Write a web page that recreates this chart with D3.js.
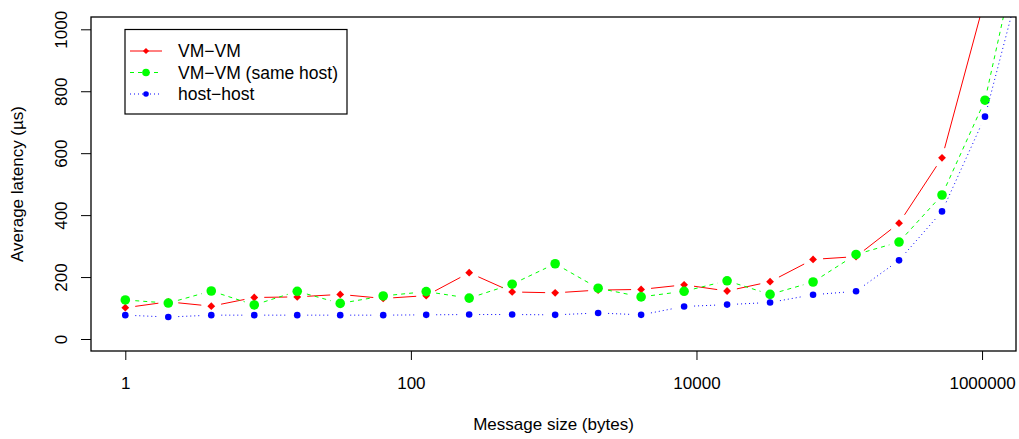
<!DOCTYPE html>
<html>
<head>
<meta charset="utf-8">
<script src="https://cdn.jsdelivr.net/npm/d3@7"></script>
<style>
  body { margin: 0; background: #fff; }
  svg { display: block; font-family: "Liberation Sans", Arial, sans-serif; }
</style>
</head>
<body>
<div id="chart"></div>
<script>
// message sizes (bytes), powers of two
const sizes = [1, 2, 4, 8, 16, 32, 64, 128, 256, 512, 1024, 2048, 4096, 8192,
    16384, 32768, 65536, 131072, 262144, 524288, 1048576, 2097152];
// average latency (us)
const vmVm = [101, 120, 106, 134, 136, 144, 131, 140, 214, 152, 149, 158, 160,
    175, 155, 185, 257, 266, 374, 585, 1100, 2200];
const vmVmSame = [126, 116, 155, 110, 154, 115, 139, 153, 132, 177, 243, 164, 136,
    154, 188, 144, 184, 273, 313, 465, 771, 1400];
const hostHost = [77, 71, 77, 77, 77, 77, 77, 78, 79, 79, 78, 84, 78,
    105, 111, 118, 143, 154, 254, 412, 718, 1250];
const seriesNames = ['VM\u2212VM', 'VM\u2212VM (same host)', 'host\u2212host'];
const xTicks = [1, 100, 10000, 1000000];
const yTicks = [0, 200, 400, 600, 800, 1000];

const width = 1019;
const height = 439;
const box = {left: 91, right: 1016, top: 17, bottom: 351};

const series = [
    {name: seriesNames[0], values: vmVm, color: '#ff0000', dash: null, mark: 'diamond', r: 3.9, lr: 3.1},
    {name: seriesNames[1], values: vmVmSame, color: '#00ff00', dash: '4,4', mark: 'circle', r: 4.8, lr: 3.8},
    {name: seriesNames[2], values: hostHost, color: '#0000ff', dash: '1,3', mark: 'circle', r: 3.3, lr: 2.8}
];

const svg = d3.select('#chart')
    .append('svg')
        .attr('width', width)
        .attr('height', height);

// scales
const x = d3.scaleLog()
    .domain([1, 1048576])
    .range([125.3, 985]);
const y = d3.scaleLinear()
    .domain([0, 1000])
    .range([339, 29.3]);

svg.append('clipPath')
        .attr('id', 'plot-clip')
    .append('rect')
        .attr('x', box.left)
        .attr('y', box.top)
        .attr('width', box.right - box.left)
        .attr('height', box.bottom - box.top);

const plot = svg.append('g')
    .attr('clip-path', 'url(#plot-clip)');

function marker(g, m, cx, cy, r, color) {
    if (m === 'diamond') {
        g.append('path')
            .attr('d', `M${cx},${cy - r}L${cx + r},${cy}L${cx},${cy + r}L${cx - r},${cy}Z`)
            .attr('fill', color);
    } else {
        g.append('circle')
            .attr('cx', cx)
            .attr('cy', cy)
            .attr('r', r)
            .attr('fill', color);
    }
}

// type = "b": segments stop short of each point
const gap = 10;
series.forEach(s => {
    const pts = s.values.map((v, i) => [x(sizes[i]), y(v)]);
    for (let i = 0; i < pts.length - 1; i++) {
        const [x0, y0] = pts[i];
        const [x1, y1] = pts[i + 1];
        const len = Math.hypot(x1 - x0, y1 - y0);
        if (len <= 2 * gap) continue;
        const ux = (x1 - x0) / len;
        const uy = (y1 - y0) / len;
        plot.append('line')
            .attr('x1', x0 + ux * gap)
            .attr('y1', y0 + uy * gap)
            .attr('x2', x1 - ux * gap)
            .attr('y2', y1 - uy * gap)
            .attr('stroke', s.color)
            .attr('stroke-width', 1)
            .attr('stroke-dasharray', s.dash);
    }
    pts.forEach(p => marker(plot, s.mark, p[0], p[1], s.r, s.color));
});

// axes
const xAxis = svg.append('g')
    .attr('transform', `translate(0,${box.bottom})`)
    .call(d3.axisBottom(x)
        .tickValues(xTicks)
        .tickFormat(d3.format('d'))
        .tickSize(9));
xAxis.select('.domain').remove();
xAxis.selectAll('.tick line').attr('stroke', '#000');
xAxis.selectAll('.tick text')
    .attr('y', 38)
    .attr('dy', null)
    .attr('fill', '#000')
    .style('font-size', '17px')
    .style('font-family', '"Liberation Sans", Arial, sans-serif');

const yAxis = svg.append('g')
    .attr('transform', `translate(${box.left},0)`)
    .call(d3.axisLeft(y)
        .tickValues(yTicks)
        .tickFormat(d3.format('d'))
        .tickSize(10));
yAxis.select('.domain').remove();
yAxis.selectAll('.tick line').attr('stroke', '#000');
yAxis.selectAll('.tick text')
    .attr('x', null)
    .attr('dy', null)
    .attr('transform', 'translate(-24,0) rotate(-90)')
    .attr('text-anchor', 'middle')
    .attr('fill', '#000')
    .style('font-size', '17px')
    .style('font-family', '"Liberation Sans", Arial, sans-serif');

// plot box
svg.append('rect')
    .attr('x', box.left)
    .attr('y', box.top)
    .attr('width', box.right - box.left)
    .attr('height', box.bottom - box.top)
    .attr('fill', 'none')
    .attr('stroke', '#000')
    .attr('stroke-width', 1.3);

// titles
svg.append('text')
    .attr('x', (box.left + box.right) / 2)
    .attr('y', 430)
    .attr('text-anchor', 'middle')
    .style('font-size', '17px')
    .text('Message size (bytes)');
svg.append('text')
    .attr('transform', `translate(23,${(box.top + box.bottom) / 2}) rotate(-90)`)
    .attr('text-anchor', 'middle')
    .style('font-size', '17px')
    .text('Average latency (\u00b5s)');

// legend
const legend = svg.append('g');
legend.append('rect')
    .attr('x', 125)
    .attr('y', 29.5)
    .attr('width', 222)
    .attr('height', 84.5)
    .attr('fill', '#fff')
    .attr('stroke', '#000')
    .attr('stroke-width', 1.2);
series.forEach((s, i) => {
    const cy = 51 + i * 21.5;
    legend.append('line')
        .attr('x1', 130)
        .attr('x2', 162)
        .attr('y1', cy)
        .attr('y2', cy)
        .attr('stroke', s.color)
        .attr('stroke-dasharray', s.dash);
    marker(legend, s.mark, 146, cy, s.lr, s.color);
    legend.append('text')
        .attr('x', 178)
        .attr('y', cy + 6)
        .style('font-size', '17.5px')
        .text(s.name);
});
</script>
</body>
</html>
